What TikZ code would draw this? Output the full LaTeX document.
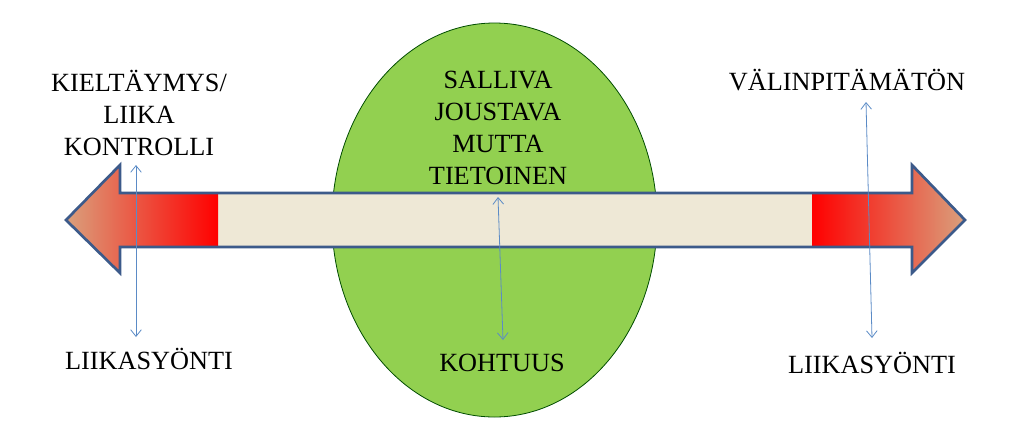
\documentclass[tikz,border=0pt]{standalone}
\usepackage{fontspec}
\setmainfont{Liberation Serif}
\usetikzlibrary{arrows.meta,shapes.geometric}
\definecolor{barfill}{HTML}{EEE8D6}
\definecolor{barline}{HTML}{3C5A8A}
\definecolor{tipcol}{HTML}{D9A27E}
\definecolor{greenfill}{HTML}{92D050}
\definecolor{thinblue}{HTML}{5B8BC6}
\tikzset{
  lbl/.style={font=\fontsize{19.7}{24}\selectfont, align=center, inner sep=0pt, text=black},
  dbl/.style={draw=thinblue, line width=0.6pt, {Straight Barb[length=5pt,width=8pt]}-{Straight Barb[length=5pt,width=8pt]}},
  barout/.style={draw=barline, line width=2pt, line join=miter}
}
\begin{document}
\begin{tikzpicture}[x=0.75pt,y=-0.75pt]
\useasboundingbox (0,0) rectangle (1024,440);
% ellipse
\node[ellipse, draw=black!70!green, line width=0.6pt, fill=greenfill, minimum width=325*0.75pt, minimum height=394*0.75pt, inner sep=0pt] (ell) at (494.5,220) {};
% bar arrow
\def\arrowpath{(66,220) -- (120,165) -- (120,193) -- (912,193) -- (912,165) -- (965,220) -- (912,273) -- (912,247) -- (120,247) -- (120,273) -- cycle}
\fill[barfill] \arrowpath;
\begin{scope}
\clip \arrowpath;
\shade[left color=tipcol, right color=red] (64,160) rectangle (218,280);
\shade[left color=red, right color=tipcol] (812,160) rectangle (967,280);
\end{scope}
\draw[barout] \arrowpath;
% texts
\node[lbl] (center) at (498,128) {SALLIVA\\JOUSTAVA\\MUTTA\\TIETOINEN};
\node[lbl] (kohtuus) at (502,363) {KOHTUUS};
\node[lbl] (left) at (139,113) {KIELTÄYMYS/\\LIIKA\\KONTROLLI};
\node[lbl] (lefts) at (149,359) {LIIKASYÖNTI};
\node[lbl] (right) at (847,80) {VÄLINPITÄMÄTÖN};
\node[lbl] (rights) at (872,363) {LIIKASYÖNTI};
% thin double arrows
\coordinate (la) at (136,165); \coordinate (lb) at (136,337);
\coordinate (ca) at (498,197); \coordinate (cb) at (503,340);
\coordinate (ra) at (866,102); \coordinate (rb) at (872,338);
\draw[dbl] (la) -- (lb);
\draw[dbl] (ca) -- (cb);
\draw[dbl] (ra) -- (rb);
\end{tikzpicture}
\end{document}
